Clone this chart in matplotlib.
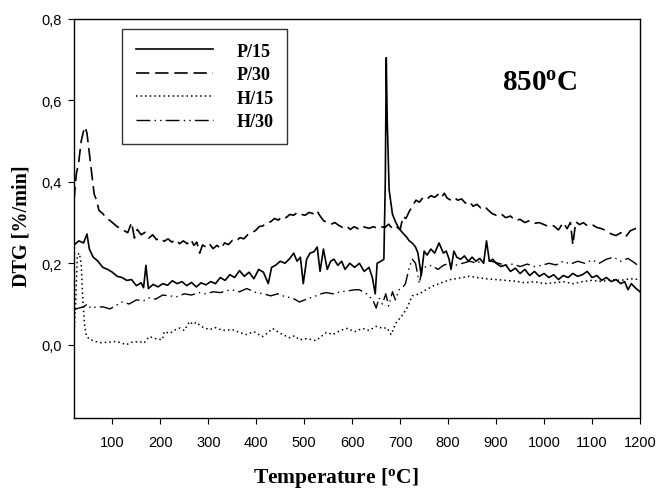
import numpy as np
import matplotlib
matplotlib.use("Agg")
import matplotlib.pyplot as plt
from matplotlib.ticker import FuncFormatter

plt.rcParams['mathtext.fontset'] = 'custom'
plt.rcParams['mathtext.rm'] = 'Liberation Serif'
plt.rcParams['mathtext.bf'] = 'Liberation Serif:bold'

# (temperature, DTG) pairs
# P/15 (solid)
p15 = [(20, 0.245), (30, 0.255), (40, 0.250), (47, 0.272), (52, 0.235), (60, 0.215), (70, 0.205),
       (80, 0.190), (90, 0.185), (100, 0.178), (110, 0.168), (120, 0.165), (130, 0.158), (140, 0.160),
       (150, 0.145), (160, 0.152), (165, 0.140), (170, 0.195), (175, 0.138), (185, 0.148), (195, 0.142),
       (205, 0.150), (215, 0.146), (225, 0.157), (235, 0.150), (245, 0.155), (255, 0.145), (265, 0.153),
       (275, 0.142), (285, 0.152), (295, 0.147), (305, 0.155), (315, 0.150), (325, 0.165), (335, 0.158),
       (345, 0.172), (355, 0.165), (365, 0.182), (375, 0.168), (385, 0.178), (395, 0.162), (405, 0.185),
       (415, 0.178), (425, 0.150), (432, 0.190), (440, 0.195), (450, 0.205), (460, 0.200), (470, 0.212),
       (478, 0.225), (485, 0.205), (492, 0.215), (498, 0.150), (505, 0.210), (512, 0.225), (520, 0.228),
       (527, 0.240), (533, 0.180), (540, 0.235), (548, 0.185), (555, 0.205), (562, 0.210), (570, 0.195),
       (578, 0.205), (585, 0.185), (595, 0.200), (605, 0.190), (615, 0.200), (625, 0.180), (635, 0.190),
       (642, 0.165), (648, 0.125), (652, 0.200), (660, 0.205), (666, 0.210), (669, 0.400), (671, 0.705),
       (673, 0.550), (677, 0.380), (684, 0.320), (691, 0.300), (698, 0.285), (705, 0.275), (713, 0.265),
       (719, 0.255), (725, 0.250), (732, 0.240), (737, 0.225), (744, 0.170), (750, 0.230), (756, 0.220),
       (764, 0.235), (772, 0.225), (781, 0.250), (790, 0.225), (796, 0.230), (802, 0.210), (806, 0.185),
       (812, 0.230), (818, 0.215), (826, 0.210), (834, 0.218), (842, 0.205), (850, 0.215), (858, 0.205),
       (866, 0.212), (874, 0.200), (880, 0.255), (886, 0.205), (893, 0.210), (900, 0.200), (910, 0.192),
       (920, 0.196), (930, 0.180), (940, 0.188), (950, 0.175), (960, 0.185), (970, 0.170), (980, 0.180),
       (990, 0.168), (1000, 0.175), (1010, 0.165), (1020, 0.172), (1030, 0.160), (1040, 0.170),
       (1050, 0.165), (1060, 0.175), (1070, 0.168), (1080, 0.172), (1090, 0.180), (1100, 0.165),
       (1110, 0.170), (1120, 0.158), (1130, 0.165), (1140, 0.155), (1150, 0.160), (1160, 0.150),
       (1168, 0.155), (1175, 0.135), (1182, 0.150), (1190, 0.140), (1200, 0.130)]

# P/30 (dashed)
p30 = [(20, 0.355), (25, 0.420), (30, 0.450), (35, 0.500), (40, 0.525), (43, 0.535), (47, 0.520),
       (52, 0.470), (57, 0.420), (62, 0.370), (67, 0.355), (72, 0.330), (80, 0.322), (88, 0.310),
       (95, 0.305), (102, 0.298), (110, 0.290), (118, 0.285), (125, 0.280), (132, 0.275), (140, 0.300),
       (146, 0.262), (152, 0.283), (160, 0.270), (168, 0.276), (176, 0.262), (184, 0.270), (192, 0.258),
       (200, 0.262), (208, 0.254), (216, 0.260), (224, 0.252), (232, 0.258), (240, 0.248), (248, 0.255),
       (256, 0.248), (264, 0.258), (270, 0.244), (276, 0.252), (282, 0.225), (288, 0.245), (295, 0.240),
       (302, 0.248), (310, 0.236), (318, 0.244), (326, 0.236), (334, 0.250), (342, 0.246), (350, 0.256),
       (358, 0.254), (366, 0.263), (374, 0.260), (382, 0.270), (390, 0.275), (398, 0.280), (406, 0.290),
       (414, 0.292), (422, 0.300), (430, 0.302), (438, 0.310), (446, 0.306), (454, 0.315), (462, 0.312),
       (470, 0.320), (478, 0.318), (486, 0.325), (494, 0.320), (502, 0.318), (510, 0.325), (518, 0.322),
       (526, 0.330), (532, 0.318), (540, 0.305), (548, 0.300), (556, 0.296), (564, 0.300), (572, 0.293),
       (580, 0.288), (588, 0.292), (596, 0.283), (604, 0.290), (612, 0.285), (620, 0.292), (628, 0.288),
       (636, 0.286), (644, 0.290), (652, 0.286), (660, 0.290), (668, 0.288), (676, 0.296), (684, 0.285),
       (692, 0.290), (700, 0.283), (706, 0.315), (712, 0.310), (718, 0.325), (725, 0.340), (733, 0.355),
       (740, 0.350), (748, 0.362), (756, 0.358), (764, 0.366), (772, 0.362), (780, 0.370), (786, 0.362),
       (792, 0.372), (798, 0.360), (804, 0.356), (812, 0.362), (820, 0.355), (828, 0.358), (836, 0.348),
       (844, 0.352), (852, 0.340), (860, 0.345), (868, 0.336), (876, 0.340), (884, 0.330), (892, 0.322),
       (900, 0.318), (910, 0.322), (920, 0.312), (930, 0.316), (940, 0.305), (950, 0.308), (960, 0.300),
       (970, 0.305), (980, 0.298), (990, 0.300), (1000, 0.295), (1010, 0.290), (1020, 0.292),
       (1030, 0.282), (1040, 0.300), (1048, 0.285), (1055, 0.300), (1060, 0.245), (1066, 0.302),
       (1074, 0.295), (1082, 0.300), (1090, 0.292), (1100, 0.295), (1110, 0.288), (1120, 0.285),
       (1130, 0.280), (1140, 0.272), (1150, 0.268), (1160, 0.275), (1170, 0.265), (1180, 0.280),
       (1190, 0.285), (1200, 0.290)]

# H/15 (dotted)
h15 = [(20, 0.020), (24, 0.120), (27, 0.220), (31, 0.225), (35, 0.200), (38, 0.120), (42, 0.050),
       (46, 0.020), (55, 0.012), (65, 0.008), (75, 0.005), (90, 0.006), (108, 0.008), (120, 0.004),
       (129, 0.000), (140, 0.006), (156, 0.008), (166, 0.004), (177, 0.020), (190, 0.015), (204, 0.012),
       (208, 0.032), (220, 0.028), (230, 0.036), (240, 0.041), (250, 0.035), (261, 0.057), (268, 0.050),
       (275, 0.055), (285, 0.045), (302, 0.037), (315, 0.042), (330, 0.035), (350, 0.037), (365, 0.030),
       (379, 0.025), (395, 0.032), (413, 0.020), (425, 0.030), (434, 0.040), (450, 0.028), (469, 0.017),
       (480, 0.022), (490, 0.012), (505, 0.015), (525, 0.010), (535, 0.020), (546, 0.030), (560, 0.025),
       (575, 0.035), (590, 0.040), (605, 0.032), (621, 0.040), (635, 0.035), (650, 0.045), (665, 0.040),
       (672, 0.042), (681, 0.025), (692, 0.055), (703, 0.070), (713, 0.087), (725, 0.120), (740, 0.125),
       (754, 0.135), (770, 0.145), (788, 0.153), (805, 0.160), (820, 0.163), (844, 0.168), (860, 0.165),
       (880, 0.162), (900, 0.160), (920, 0.158), (940, 0.156), (960, 0.152), (980, 0.155), (1000, 0.150),
       (1020, 0.152), (1040, 0.155), (1060, 0.150), (1080, 0.155), (1100, 0.158), (1120, 0.155),
       (1140, 0.160), (1160, 0.158), (1180, 0.162), (1200, 0.160)]

# H/30 (dash-dot-dot)
h30 = [(20, 0.086), (30, 0.090), (40, 0.093), (48, 0.100), (55, 0.090), (65, 0.092), (80, 0.093),
       (95, 0.088), (110, 0.098), (121, 0.105), (135, 0.100), (150, 0.110), (165, 0.108), (177, 0.115),
       (190, 0.112), (205, 0.122), (219, 0.120), (235, 0.118), (250, 0.125), (265, 0.122), (280, 0.128),
       (295, 0.125), (310, 0.130), (325, 0.128), (340, 0.133), (350, 0.135), (365, 0.130), (380, 0.138),
       (400, 0.128), (415, 0.125), (430, 0.120), (445, 0.125), (460, 0.118), (475, 0.115), (490, 0.105),
       (505, 0.112), (520, 0.118), (535, 0.125), (546, 0.128), (560, 0.125), (575, 0.130), (590, 0.132),
       (605, 0.135), (615, 0.135), (630, 0.125), (643, 0.110), (650, 0.090), (656, 0.115), (663, 0.100),
       (670, 0.125), (676, 0.095), (684, 0.130), (690, 0.110), (698, 0.135), (705, 0.140), (711, 0.150),
       (719, 0.190), (725, 0.210), (732, 0.200), (740, 0.150), (747, 0.195), (754, 0.190), (765, 0.195),
       (779, 0.185), (790, 0.195), (802, 0.200), (815, 0.195), (830, 0.200), (845, 0.205), (860, 0.200),
       (875, 0.210), (890, 0.205), (905, 0.200), (920, 0.195), (935, 0.198), (950, 0.192), (965, 0.198),
       (980, 0.192), (995, 0.195), (1010, 0.200), (1025, 0.196), (1040, 0.205), (1055, 0.198),
       (1070, 0.205), (1085, 0.200), (1100, 0.208), (1115, 0.200), (1130, 0.210), (1145, 0.215),
       (1160, 0.205), (1175, 0.212), (1190, 0.200), (1200, 0.190)]

labels = ['P/15', 'P/30', 'H/15', 'H/30']
xticks = [100, 200, 300, 400, 500, 600, 700, 800, 900, 1000, 1100, 1200]
yticks = [0.0, 0.2, 0.4, 0.6, 0.8]

fig = plt.figure(figsize=(6.57, 4.89), dpi=100)
ax = fig.add_axes([74 / 657, 70 / 489, 566 / 657, 399 / 489])

styles = [dict(lw=1.2, linestyle='-'),
          dict(lw=1.2, linestyle=(0, (8, 3.5))),
          dict(lw=1.1, linestyle=(0, (1, 2))),
          dict(lw=1.0, linestyle=(0, (10, 3, 1, 3, 1, 3)))]
for data, lab, st in zip([p15, p30, h15, h30], labels, styles):
    t, v = zip(*data)
    ax.plot(t, v, color='black', label=lab, **st)

ax.set_xlim(20, 1200)
ax.set_ylim(-0.18, 0.8)
ax.set_xticks(xticks)
ax.set_yticks(yticks)
ax.yaxis.set_major_formatter(FuncFormatter(lambda v, p: f"{v:.1f}".replace('.', ',')))
ax.tick_params(direction='out', length=4.5, width=0.8, labelsize=10.5)
ax.tick_params(axis='x', pad=8)
ax.tick_params(axis='y', pad=4)
for lab in ax.get_xticklabels() + ax.get_yticklabels():
    lab.set_fontfamily('Liberation Sans')
for s in ax.spines.values():
    s.set_linewidth(1.0)

leg = ax.legend(loc='upper left', bbox_to_anchor=(48 / 566, 389 / 399), borderaxespad=0,
                prop={'family': 'Liberation Serif', 'weight': 'bold', 'size': 13},
                handlelength=4.3, handletextpad=1.3, labelspacing=0.36, borderpad=0.75,
                fancybox=False, framealpha=1, edgecolor='#333333')
leg.get_frame().set_linewidth(1.0)

ax.text(0.823, 0.842, r'$\mathbf{850^{o}C}$', transform=ax.transAxes, ha='center', va='center',
        fontsize=21)

fig.text(336 / 657, 6 / 489, r'Temperature [$\mathbf{^{o}}$C]', ha='center', va='baseline',
         fontsize=15.5, fontweight='bold', family='Liberation Serif')
fig.text(22 / 657, (489 - 226) / 489, 'DTG [%/min]', ha='center', va='center', rotation=90,
         fontsize=14.5, fontweight='bold', family='Liberation Serif')

fig.savefig('out.png', dpi=100)
